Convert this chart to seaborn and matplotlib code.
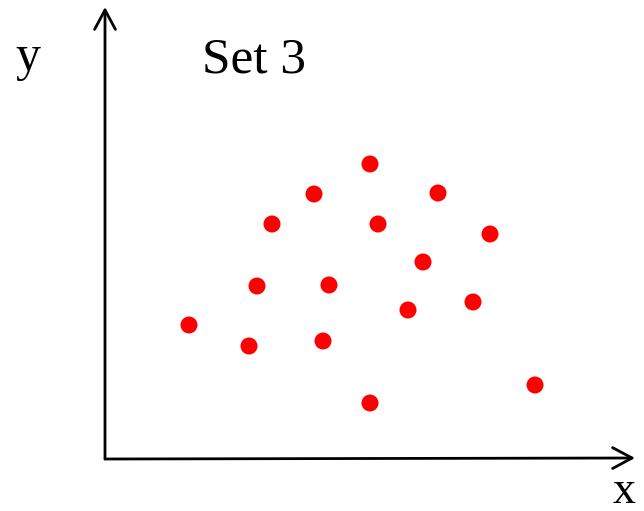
import matplotlib
matplotlib.use("Agg")
import matplotlib.pyplot as plt
import seaborn as sns
import pandas as pd

# points of "Set 3"
x_vals = [8.4, 14.4, 15.2, 16.7, 20.9, 21.8, 22.4, 26.5, 27.3, 26.5, 30.3, 31.8, 33.3, 36.8, 38.5, 43.0]
y_vals = [13.3, 11.2, 17.2, 23.4, 26.4, 11.7, 17.3, 29.4, 23.4, 5.5, 14.8, 19.6, 26.5, 15.6, 22.4, 7.3]
title_text = "Set 3"
x_name = "x"
y_name = "y"

df = pd.DataFrame({"x": x_vals, "y": y_vals})

sns.set_style("white")
plt.rcParams['font.family'] = ['Liberation Serif', 'DejaVu Serif']
plt.rcParams['text.color'] = 'black'

fig = plt.figure(figsize=(6.44, 5.11), dpi=100)
ax = fig.add_axes([0, 0, 1, 1])

sns.scatterplot(data=df, x="x", y="y", ax=ax, color="#ff0000", s=150,
                edgecolor="none", legend=False)

ax.set_xlim(-10.5, 53.9)
ax.set_ylim(-5.3, 45.8)
ax.axis("off")

# axes with arrow heads
arrow = dict(arrowstyle="->,head_length=1.4,head_width=0.75", color="black",
             lw=2, mutation_scale=10, shrinkA=0, shrinkB=0)
ax.annotate("", xy=(53.0, 0), xytext=(0, -0.1), arrowprops=arrow)
ax.annotate("", xy=(0, 45.1), xytext=(0, -0.1), arrowprops=arrow)

ax.text(-7.7, 40.0, y_name, fontsize=36, ha="center", va="center", color="black")
ax.text(51.9, -3.4, x_name, fontsize=33, ha="center", va="center", color="black")
ax.text(14.9, 39.8, title_text, fontsize=37, ha="center", va="center", color="black")

fig.savefig("out.png", dpi=100)
